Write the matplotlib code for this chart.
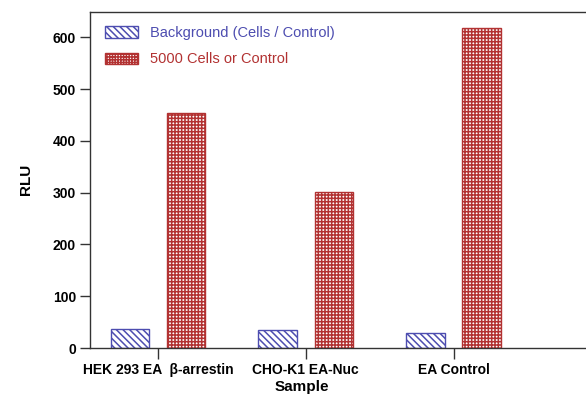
import matplotlib
matplotlib.use('Agg')
import matplotlib.pyplot as plt
from matplotlib.patches import Patch
import numpy as np

plt.rcParams['font.family'] = ['Liberation Sans', 'DejaVu Sans']
plt.rcParams['hatch.linewidth'] = 1.1

# data
samples = ["HEK 293 EA  \u03b2-arrestin", "CHO-K1 EA-Nuc", "EA Control"]
background = [36, 35, 28.5]
cells_5000 = [453, 302, 619]

blue = "#4d4db0"
red = "#b23232"

fig = plt.figure(figsize=(5.86, 3.99), dpi=100)
ax = fig.add_axes([90 / 586, 51 / 399, 1 - 90 / 586, 336.5 / 399])

x = np.arange(len(samples))
w = 0.26

# hatch density: each char gives 6 lines per 100 px cell
ax.bar(x - 0.19, background, w, color="white", edgecolor=blue,
       hatch="\\" * 5, linewidth=1.0)
ax.bar(x + 0.19, cells_5000, w, color="white", edgecolor=red,
       hatch="+" * 5, linewidth=1.0)

ax.set_xlim(-0.46, 2.896)
ax.set_ylim(0, 650)
ax.set_yticks(np.arange(0, 601, 100))
ax.set_xticks(x)
ax.set_xticklabels(samples, fontweight="bold", fontsize=10)
for lab in ax.get_yticklabels():
    lab.set_fontweight("bold")
    lab.set_fontsize(10)
ax.tick_params(axis="both", direction="out", length=7, width=1, color="#333333", pad=3)
ax.tick_params(axis="x", length=8)

for s in ["left", "bottom", "top"]:
    ax.spines[s].set_color("#333333")
    ax.spines[s].set_linewidth(1.0)
ax.spines["right"].set_visible(False)

ax.set_ylabel("RLU", fontweight="bold", fontsize=11, labelpad=14)
ax.set_xlabel("Sample", fontweight="bold", fontsize=11)
ax.xaxis.set_label_coords(0.427, -0.095)

handles = [
    Patch(facecolor="white", edgecolor=blue, hatch="\\" * 5, linewidth=1.0),
    Patch(facecolor="white", edgecolor=red, hatch="+" * 6, linewidth=1.0),
]
leg = ax.legend(handles, ["Background (Cells / Control)", "5000 Cells or Control"],
                loc="upper left", frameon=False, fontsize=10.5,
                handlelength=2.3, handleheight=0.8, handletextpad=0.8,
                labelspacing=0.85, borderaxespad=0.6, bbox_to_anchor=(0.0, 1.0))
leg.get_texts()[0].set_color(blue)
leg.get_texts()[1].set_color(red)

fig.savefig("out.png", dpi=100)
